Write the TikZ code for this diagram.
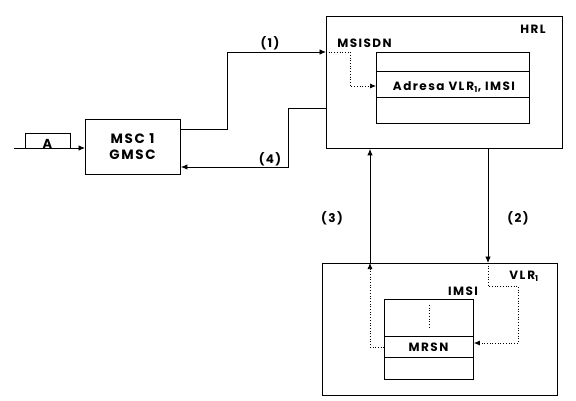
\documentclass[tikz,border=0pt]{standalone}
\usepackage{fontspec}
\setmainfont{Poppins}
\newfontfamily\lblfont[LetterSpace=12]{Poppins}
\usetikzlibrary{arrows.meta}
\begin{document}
\begin{tikzpicture}[x=1pt,y=-1pt,
  box/.style={draw,line width=0.9pt,inner sep=0pt},
  conn/.style={line width=0.9pt,-{Latex[length=6.5pt,width=5.5pt]}},
  dotconn/.style={line width=0.7pt,dotted,-{Latex[length=6pt,width=5pt]}},
  lbl/.style={font=\lblfont\bfseries\fontsize{12}{13}\selectfont,inner sep=0pt},
  big/.style={font=\lblfont\bfseries\fontsize{13.5}{16}\selectfont,inner sep=0pt,align=center}]
\useasboundingbox (0,0) rectangle (576,401);
% MSC
\node[box,minimum width=95pt,minimum height=55pt,anchor=north west] (msc) at (85,119) {};
\node[big] (msct) at (132.5,147) {MSC 1\\GMSC};
% A box
\coordinate (ain) at (14,148);
\draw[line width=0.9pt] (25,148) |- (70,133) -- (70,148);
\node[lbl,font=\lblfont\bfseries\fontsize{13}{13}\selectfont] (a) at (47.5,143.5) {A};
\draw[conn] (ain) -- (msc.west |- ain);
% HRL
\node[box,minimum width=236pt,minimum height=132pt,anchor=north west] (hrl) at (326,16) {};
\node[lbl] (hrlt) at (533,29) {HRL};
\node[lbl] (msisdn) at (364.5,43) {MSISDN};
\node[box,minimum width=153pt,minimum height=71pt,anchor=north west] (tab) at (376,52) {};
\draw[line width=0.9pt] (376,71) -- (529,71) (376,97) -- (529,97);
\node[lbl] (adr) at (454,87) {Adresa VL\,R$_{\mathbf 1}$, IMSI};
% VLR
\node[box,minimum width=235pt,minimum height=132pt,anchor=north west] (vlr) at (322,263) {};
\node[lbl] (vlrt) at (524,276) {VL\,R$_{\mathbf 1}$};
\node[lbl] (imsi) at (463,291) {IMSI};
\node[box,minimum width=89pt,minimum height=80pt,anchor=north west] (tab2) at (384,299) {};
\draw[line width=0.9pt] (384,336) -- (473,336) (384,357) -- (473,357);
\node[lbl] (mrsn) at (428.5,347) {MRSN};
\draw[line width=0.7pt,dotted] (429,305) -- (429,327);
% connectors
\draw[conn] (msc.east |- 0,129) -- (227,129) -- (227,52) -- (hrl.west |- 0,52);
\node[lbl] (l1) at (270,43) {(1)};
\draw[dotconn] (hrl.west |- 0,52) -- (350,52) -- (350,86) -- (tab.west |- 0,86);
\draw[conn] (hrl.west |- 0,108) -- (288,108) -- (288,167) -- (msc.east |- 0,167);
\node[lbl] (l4) at (270,159) {(4)};
\draw[conn] (vlr.north -| 370,0) -- (hrl.south -| 370,0);
\node[lbl] (l3) at (332,218) {(3)};
\draw[conn] (hrl.south -| 488,0) -- (vlr.north -| 488,0);
\node[lbl] (l2) at (518,218) {(2)};
\draw[dotconn] (vlr.north -| 488,0) -- (488,286) -- (518,286) -- (518,343) -- (tab2.east |- 0,343);
\draw[dotconn] (tab2.west |- 0,347) -- (370,347) -- (vlr.north -| 370,0);
\end{tikzpicture}
\end{document}
